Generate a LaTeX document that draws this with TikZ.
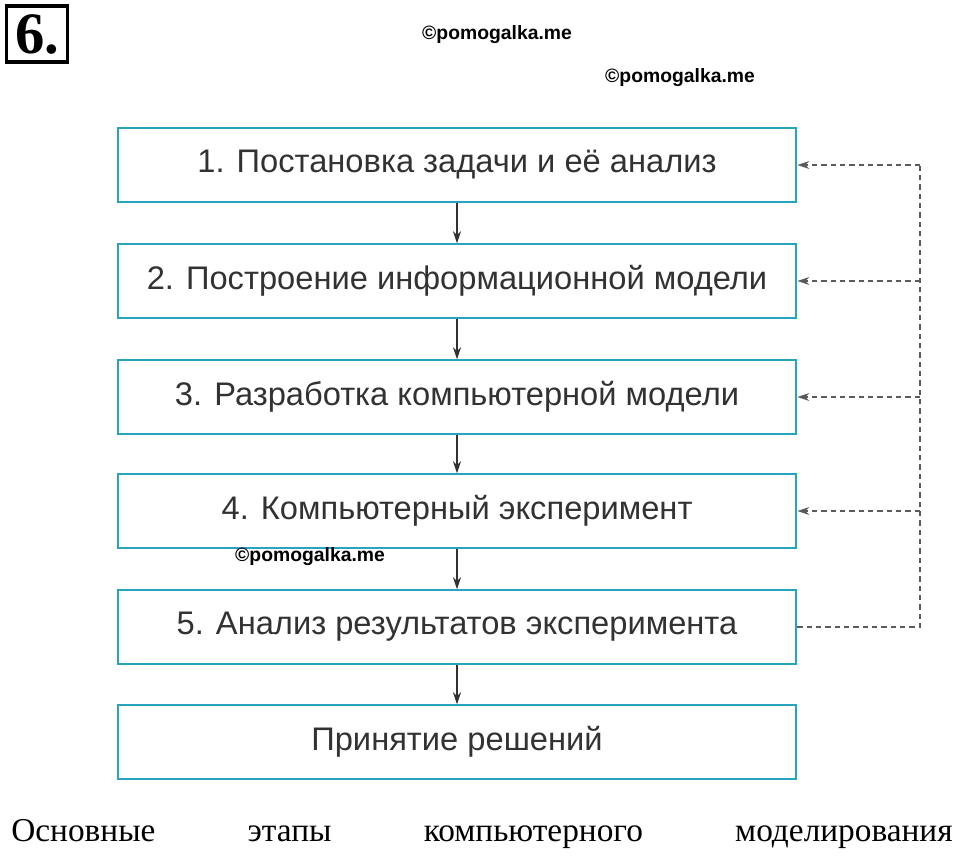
\documentclass[tikz,border=0pt]{standalone}
\usepackage{fontspec}
\setmainfont{Liberation Serif}
\setsansfont{Liberation Sans}
\usetikzlibrary{positioning,arrows.meta}
\definecolor{boxline}{RGB}{40,165,190}
\definecolor{txtgray}{RGB}{50,50,50}
\tikzset{
  stage/.style={draw=boxline,line width=1.6pt,minimum width=509pt,minimum height=55pt,
    inner sep=0pt,font=\sffamily\fontsize{24.5}{24.5}\selectfont,text=txtgray},
  down/.style={-{Stealth[length=9pt,width=6pt]},line width=1.1pt,draw=txtgray},
  back/.style={-{Stealth[length=9pt,width=6pt]},line width=1pt,draw=txtgray!80,dash pattern=on 4pt off 3pt},
  wmark/.style={font=\sffamily\bfseries\fontsize{14.5}{14.5}\selectfont}
}
\begin{document}
\begin{tikzpicture}[x=0.75pt,y=-0.75pt]
\useasboundingbox (0,0) rectangle (960,867);

\node (num) [draw,line width=2.6pt,minimum width=46pt,minimum height=42pt,inner sep=0pt,font=\bfseries\fontsize{44}{44}\selectfont] at (37,34) {6.};
\node (wm1) [wmark] at (497,35) {©pomogalka.me};
\node (wm2) [wmark] at (680,78) {©pomogalka.me};

\node (s1) [stage] at (457,165) {1. Постановка задачи и её анализ};
\node (s2) [stage] at (457,281) {2. Построение информационной модели};
\node (s3) [stage] at (457,397) {3. Разработка компьютерной модели};
\node (s4) [stage] at (457,511) {4. Компьютерный эксперимент};
\node (s5) [stage] at (457,627) {5. Анализ результатов эксперимента};
\node (s6) [stage] at (457,742) {Принятие решений};

\node (wm3) [wmark] at (310,557) {©pomogalka.me};

\foreach \a/\b in {s1/s2,s2/s3,s3/s4,s4/s5,s5/s6}
  \draw [down] (\a.south) -- (\b.north);

\coordinate (c5) at (920,627);
\coordinate (c1) at (920,165);
\draw [back,-] (s5.east) -- (c5) -- (c1);
\foreach \s in {s1,s2,s3,s4}
  \draw [back] (c5 |- \s.east) -- (\s.east);

\node (caption) [inner sep=0pt] at (482,834) {\fontsize{25}{25}\selectfont\makebox[706pt][s]{Основные\hfill этапы\hfill компьютерного\hfill моделирования}};
\end{tikzpicture}
\end{document}
